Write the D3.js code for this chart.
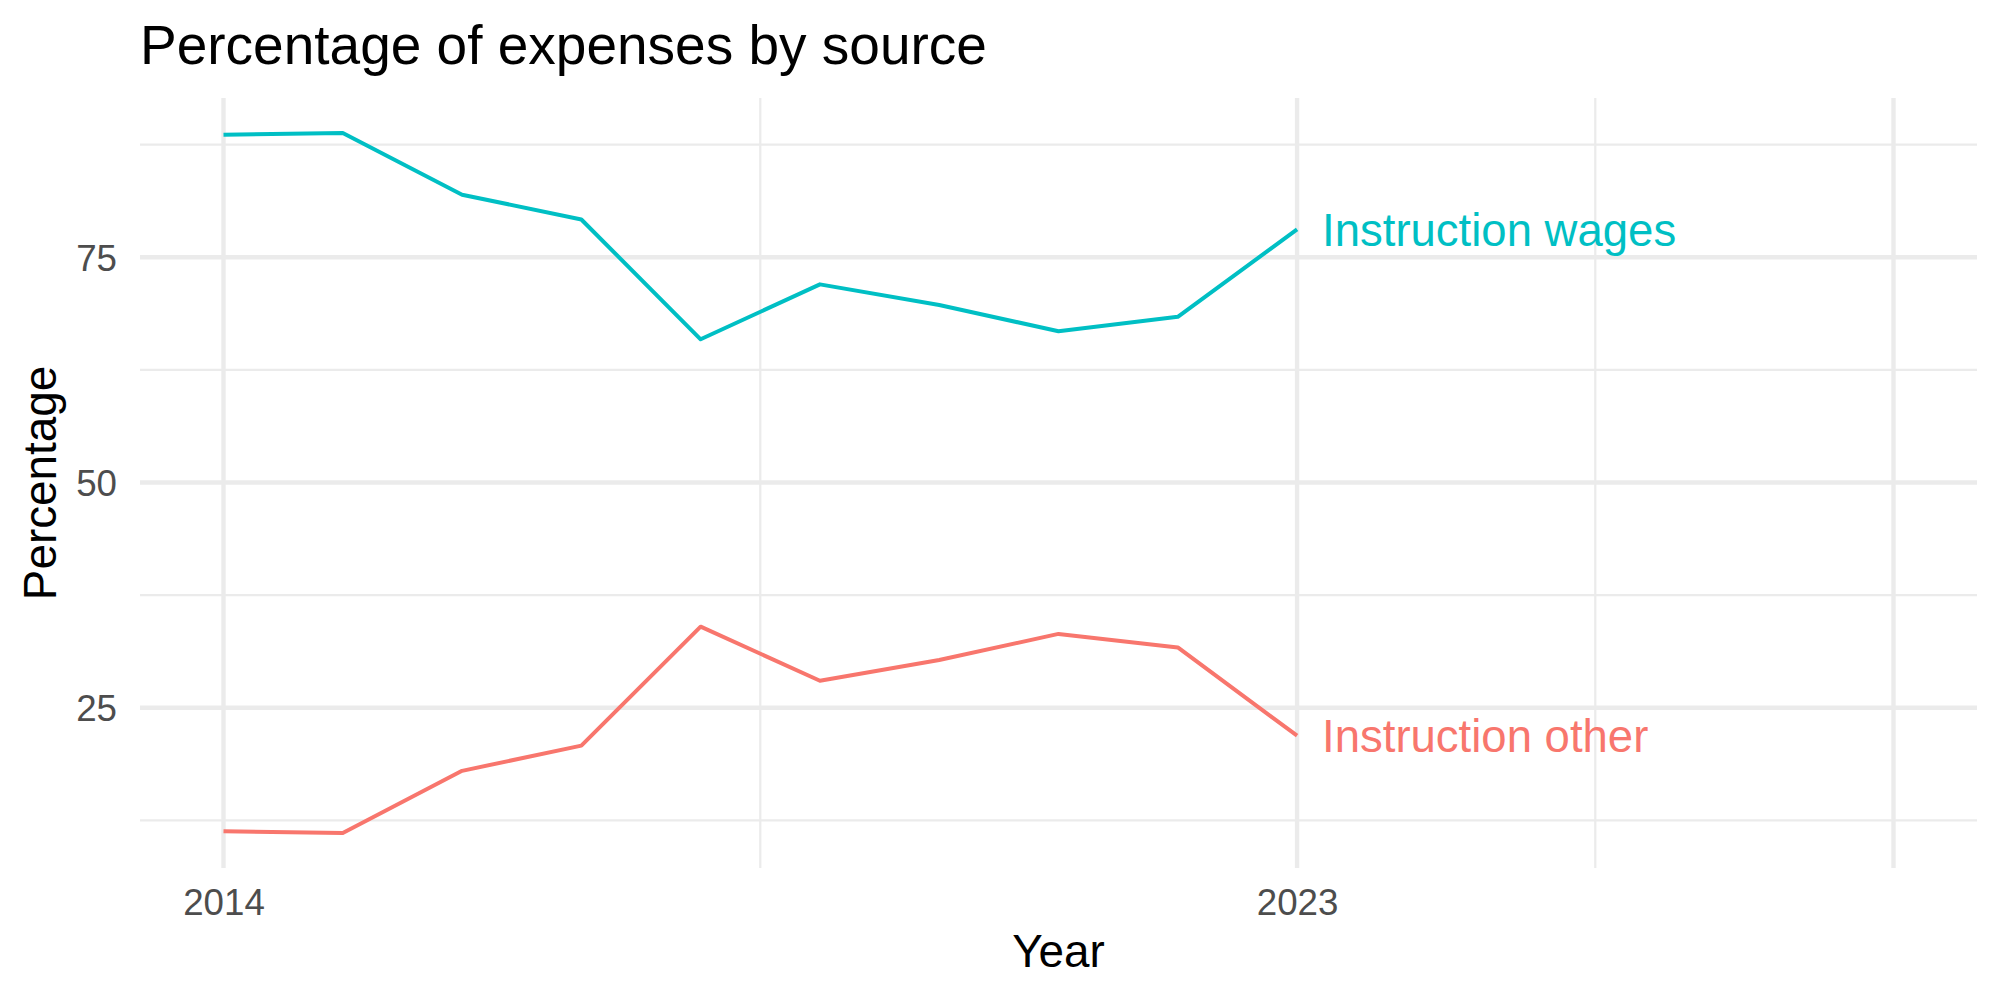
<!DOCTYPE html>
<html>
<head>
<meta charset="utf-8">
<script src="https://cdn.jsdelivr.net/npm/d3@7"></script>
<style>
  body { margin: 0; background: #fff; }
  text { font-family: "Liberation Sans", Arial, Helvetica, sans-serif; }
</style>
</head>
<body>
<div id="chart"></div>
<script>
// Dados
const years = [2014, 2015, 2016, 2017, 2018, 2019, 2020, 2021, 2022, 2023];
const wages = [88.6, 88.8, 81.95, 79.2, 65.9, 72.0, 69.7, 66.8, 68.4, 78.1];
const other = [11.3, 11.1, 18.0, 20.8, 34.0, 28.0, 30.3, 33.2, 31.7, 21.9];
const seriesNames = ["Instruction wages", "Instruction other"];
const seriesColors = ["#00BFC4", "#F8766D"];
const xLimits = [2014, 2028];
const xBreaks = [2014, 2023, 2028];
const xLabels = ["2014", "2023", ""];
const xMinor = [2018.5, 2025.5];
const yBreaks = [25, 50, 75];
const yMinor = [12.5, 37.5, 62.5, 87.5];

// 1. Definições
const W = 2000, H = 1000;
const margin = { top: 98, right: 23, bottom: 132, left: 140 };
const width = W - margin.left - margin.right;
const height = H - margin.top - margin.bottom;

const svg = d3.select("#chart")
    .append("svg")
    .attr("width", W)
    .attr("height", H);

const g = svg.append("g")
    .attr("transform", `translate(${margin.left},${margin.top})`);

// 2. Escalas (expansão de 5% como no ggplot)
const xPad = (xLimits[1] - xLimits[0]) * 0.05;
const x = d3.scaleLinear()
    .domain([xLimits[0] - xPad, xLimits[1] + xPad])
    .range([0, width]);

const allVals = wages.concat(other);
const [yMin, yMax] = d3.extent(allVals);
const yPad = (yMax - yMin) * 0.05;
const y = d3.scaleLinear()
    .domain([yMin - yPad, yMax + yPad])
    .range([height, 0]);

// 3. Grade
g.selectAll(".minor-y").data(yMinor).enter().append("line")
    .attr("x1", 0).attr("x2", width)
    .attr("y1", d => y(d)).attr("y2", d => y(d))
    .attr("stroke", "#EBEBEB").attr("stroke-width", 2.2);

g.selectAll(".minor-x").data(xMinor).enter().append("line")
    .attr("y1", 0).attr("y2", height)
    .attr("x1", d => x(d)).attr("x2", d => x(d))
    .attr("stroke", "#EBEBEB").attr("stroke-width", 2.2);

g.selectAll(".major-y").data(yBreaks).enter().append("line")
    .attr("x1", 0).attr("x2", width)
    .attr("y1", d => y(d)).attr("y2", d => y(d))
    .attr("stroke", "#EBEBEB").attr("stroke-width", 4.4);

g.selectAll(".major-x").data(xBreaks).enter().append("line")
    .attr("y1", 0).attr("y2", height)
    .attr("x1", d => x(d)).attr("x2", d => x(d))
    .attr("stroke", "#EBEBEB").attr("stroke-width", 4.4);

// 4. Eixos
const xAxis = d3.axisBottom(x)
    .tickValues(xBreaks)
    .tickFormat((d, i) => xLabels[i])
    .tickSize(0)
    .tickPadding(21);

const yAxis = d3.axisLeft(y)
    .tickValues(yBreaks)
    .tickFormat(d3.format("d"))
    .tickSize(0)
    .tickPadding(23);

const gx = g.append("g")
    .attr("transform", `translate(0,${height})`)
    .call(xAxis);
const gy = g.append("g").call(yAxis);

[gx, gy].forEach(a => {
    a.select(".domain").remove();
    a.selectAll("text")
        .attr("fill", "#4D4D4D")
        .style("font-size", "36.7px");
});
gy.selectAll("text").attr("dy", "0.36em");

// 5. Linhas
const series = [wages, other];
const line = d3.line()
    .x((d, i) => x(years[i]))
    .y(d => y(d));

g.selectAll(".line")
    .data(series)
    .enter()
    .append("path")
    .attr("fill", "none")
    .attr("stroke", (d, i) => seriesColors[i])
    .attr("stroke-width", 4)
    .attr("stroke-linejoin", "round")
    .attr("d", d => line(d));

// 6. Rótulos no fim das linhas
g.selectAll(".end-label")
    .data(series)
    .enter()
    .append("text")
    .attr("x", x(years[years.length - 1]) + 25)
    .attr("y", d => y(d[d.length - 1]))
    .attr("dy", "0.36em")
    .attr("fill", (d, i) => seriesColors[i])
    .style("font-size", "45.5px")
    .text((d, i) => seriesNames[i]);

// 7. Títulos
svg.append("text")
    .attr("x", margin.left)
    .attr("y", 64)
    .style("font-size", "55px")
    .attr("fill", "#000")
    .text("Percentage of expenses by source");

svg.append("text")
    .attr("text-anchor", "middle")
    .attr("x", margin.left + width / 2)
    .attr("y", 967)
    .style("font-size", "45.8px")
    .attr("fill", "#000")
    .text("Year");

svg.append("text")
    .attr("text-anchor", "middle")
    .attr("transform", `translate(56,${margin.top + height / 2}) rotate(-90)`)
    .style("font-size", "45.8px")
    .attr("fill", "#000")
    .text("Percentage");
</script>
</body>
</html>
